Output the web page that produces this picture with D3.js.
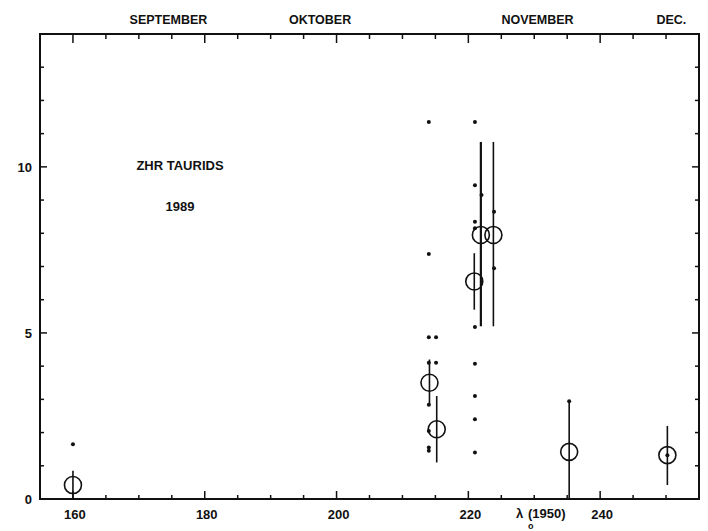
<!DOCTYPE html>
<html>
<head>
<meta charset="utf-8">
<script src="https://cdn.jsdelivr.net/npm/d3@7"></script>
<style>
  body { margin: 0; background: #fff; }
  svg text { font-family: "Liberation Sans", Arial, sans-serif; font-weight: bold; fill: #111; }
</style>
</head>
<body>
<div id="chart"></div>
<script>
// mean ZHR per interval (circles) with error bars
const lambda = [160, 214.1, 215.2, 220.9, 221.9, 223.8, 235.3, 250.2];
const zhr    = [0.42, 3.5, 2.1, 6.55, 7.95, 7.95, 1.42, 1.32];
const errLo  = [0, 2.8, 1.1, 5.7, 5.2, 5.2, 0, 0.42];
const errHi  = [0.85, 4.2, 3.1, 7.4, 10.75, 10.75, 2.94, 2.2];

// single observations (dots)
const obsLambda = [160, 214, 214, 214, 215.1, 214, 215.1, 214, 214, 214, 214,
                   221, 221, 221, 221, 221, 221, 221, 221, 221, 222, 223.9, 223.9, 235.3, 250.2];
const obsZhr    = [1.65, 11.35, 7.38, 4.87, 4.87, 4.1, 4.1, 2.84, 2.05, 1.55, 1.45,
                   11.35, 9.45, 8.35, 8.15, 5.18, 4.07, 3.1, 2.4, 1.4, 9.15, 8.65, 6.95, 2.94, 1.32];

const xTicks = [160, 180, 200, 220, 240];
const yTicks = [0, 5, 10];
const months = ["SEPTEMBER", "OKTOBER", "NOVEMBER", "DEC."];
const monthPos = [174.5, 197.5, 230.5, 250.8];

const width = 708, height = 531;
const x = d3.scaleLinear().domain([155, 255]).range([40, 699]);
const y = d3.scaleLinear().domain([0, 14]).range([499, 34]);

const svg = d3.select("#chart").append("svg")
    .attr("width", width)
    .attr("height", height);

// frame
svg.append("rect")
    .attr("x", x(155)).attr("y", y(14))
    .attr("width", x(255) - x(155)).attr("height", y(0) - y(14))
    .attr("fill", "none").attr("stroke", "#111").attr("stroke-width", 2);

// inward ticks on all four sides
let xMinor = d3.range(160, 255, 5);
let yMinor = d3.range(1, 14, 1);
let tk = svg.append("g").attr("stroke", "#111").attr("stroke-width", 1.5);
xMinor.forEach(v => {
    let len = v % 20 === 0 ? 8 : 4;
    tk.append("line").attr("x1", x(v)).attr("x2", x(v)).attr("y1", y(0)).attr("y2", y(0) - len);
    tk.append("line").attr("x1", x(v)).attr("x2", x(v)).attr("y1", y(14)).attr("y2", y(14) + len + 1);
});
yMinor.forEach(v => {
    let len = v % 5 === 0 ? 7 : 4;
    tk.append("line").attr("y1", y(v)).attr("y2", y(v)).attr("x1", x(155)).attr("x2", x(155) + len);
    tk.append("line").attr("y1", y(v)).attr("y2", y(v)).attr("x1", x(255)).attr("x2", x(255) - len);
});

// tick labels
svg.selectAll(".xl").data(xTicks).join("text")
    .attr("x", d => x(d) + 2).attr("y", 519)
    .attr("text-anchor", "middle").attr("font-size", 13)
    .text(d => d);
svg.selectAll(".yl").data(yTicks).join("text")
    .attr("x", 32).attr("y", d => y(d) + 5)
    .attr("text-anchor", "end").attr("font-size", 13)
    .text(d => d);

// months along the top
svg.selectAll(".ml").data(months).join("text")
    .attr("x", (d, i) => x(monthPos[i])).attr("y", 24)
    .attr("text-anchor", "middle").attr("font-size", 12.5)
    .text(d => d);

// axis title: lambda sun (1950)
let t = svg.append("g");
t.append("text").attr("x", 516).attr("y", 518).attr("font-size", 13).text("λ");
t.append("text").attr("x", 528).attr("y", 518).attr("font-size", 13).text("(1950)");
t.append("text").attr("x", 528).attr("y", 529).attr("font-size", 9).text("o");

// chart caption
svg.append("text").attr("x", 180).attr("y", 170).attr("text-anchor", "middle")
    .attr("font-size", 13).text("ZHR TAURIDS");
svg.append("text").attr("x", 180).attr("y", 211).attr("text-anchor", "middle")
    .attr("font-size", 13).text("1989");

// error bars
svg.append("g").selectAll("line").data(lambda).join("line")
    .attr("x1", d => x(d)).attr("x2", d => x(d))
    .attr("y1", (d, i) => y(errLo[i])).attr("y2", (d, i) => y(errHi[i]))
    .attr("stroke", "#111").attr("stroke-width", (d, i) => i === 4 ? 2.2 : 1.6);

// observation dots
svg.append("g").selectAll("circle").data(obsLambda).join("circle")
    .attr("cx", d => x(d)).attr("cy", (d, i) => y(obsZhr[i]))
    .attr("r", 2).attr("fill", "#111");

// means
svg.append("g").selectAll("circle").data(lambda).join("circle")
    .attr("cx", d => x(d)).attr("cy", (d, i) => y(zhr[i]))
    .attr("r", 8.5).attr("fill", "none")
    .attr("stroke", "#111").attr("stroke-width", 1.6);
</script>
</body>
</html>
